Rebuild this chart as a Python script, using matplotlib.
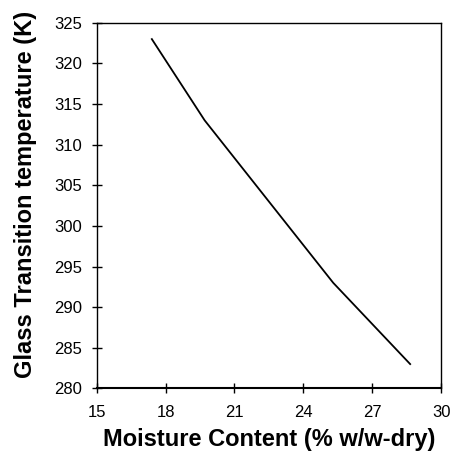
import matplotlib
matplotlib.use("Agg")
import matplotlib.pyplot as plt

moisture = [17.4, 19.7, 23.9, 25.3, 28.65]
tg = [323, 313, 298, 293, 283]
x_ticks = [15, 18, 21, 24, 27, 30]
y_ticks = [280, 285, 290, 295, 300, 305, 310, 315, 320, 325]

plt.rcParams['font.family'] = ['Liberation Sans', 'DejaVu Sans']

fig = plt.figure(figsize=(4.52, 4.57), dpi=100)
ax = fig.add_axes([0.214, 0.150, 0.762, 0.800])
ax.plot(moisture, tg, color='black', lw=1.3)
ax.set_xlim(15, 30)
ax.set_ylim(280, 325)
ax.set_xticks(x_ticks)
ax.set_yticks(y_ticks)
ax.tick_params(direction='inout', length=7, width=1, labelsize=12, colors='black')
ax.tick_params(axis='y', pad=7)
ax.tick_params(axis='x', pad=8.5)
for s in ax.spines.values():
    s.set_linewidth(1)
ax.spines['bottom'].set_linewidth(1.5)
ax.set_xlabel('Moisture Content (% w/w-dry)', fontsize=17, fontweight='bold', va='center')
ax.set_ylabel('Glass Transition temperature (K)', fontsize=17, fontweight='bold', va='center')
ax.xaxis.set_label_coords(0.5, -0.141)
ax.yaxis.set_label_coords(-0.208, 0.53)
fig.savefig('out.png', dpi=100)
